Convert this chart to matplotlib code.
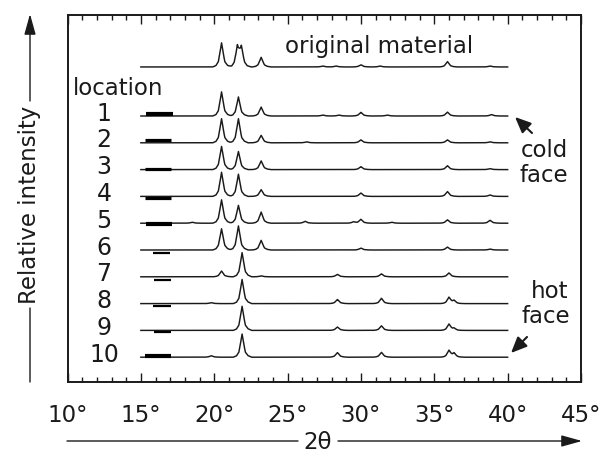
import numpy as np
import matplotlib
matplotlib.use("Agg")
import matplotlib.pyplot as plt
from matplotlib.patches import FancyArrowPatch

plt.rcParams['font.family'] = ['DejaVu Sans']
plt.rcParams['mathtext.fontset'] = 'dejavusans'

# ---------------- data ----------------
x_ticks = [10, 15, 20, 25, 30, 35, 40, 45]
x_tick_labels = ['10°', '15°', '20°', '25°', '30°', '35°', '40°', '45°']
scan_start, scan_end = 15.0, 40.0

trace_names = ['original', '1', '2', '3', '4', '5', '6', '7', '8', '9', '10']

# peak positions (2-theta, deg) for each trace
peak_pos = {
    'original': [20.5, 21.58, 21.85, 23.2, 27.4, 28.3, 30.0, 31.3, 35.9, 38.8],
    '1':  [20.5, 21.65, 23.2, 27.4, 28.5, 30.0, 31.8, 35.9, 38.9],
    '2':  [20.5, 21.65, 23.2, 26.3, 30.0, 35.9, 38.8],
    '3':  [20.5, 21.65, 23.2, 30.0, 35.9, 38.8],
    '4':  [20.5, 21.65, 23.2, 30.0, 35.9, 38.8],
    '5':  [18.5, 20.5, 21.65, 23.2, 26.2, 29.5, 30.0, 32.1, 35.9, 38.8],
    '6':  [20.5, 21.65, 23.2, 30.0, 35.9, 38.8],
    '7':  [20.5, 21.9, 23.2, 28.4, 31.4, 36.0],
    '8':  [19.8, 21.9, 28.4, 31.4, 36.0, 36.35],
    '9':  [21.9, 28.4, 31.4, 36.0, 36.35],
    '10': [19.8, 21.9, 28.4, 31.4, 36.0, 36.35],
}
# peak heights (relative intensity, tallest = 100)
peak_int = {
    'original': [100, 80, 76, 40, 4, 4, 9, 4, 22, 4],
    '1':  [100, 79, 37, 4, 4, 15, 4, 16, 6],
    '2':  [100, 100, 31, 4, 12, 12, 4],
    '3':  [96, 75, 36, 12, 16, 4],
    '4':  [100, 92, 28, 14, 20, 6],
    '5':  [4, 97, 74, 46, 8, 6, 16, 4, 14, 12],
    '6':  [88, 100, 40, 8, 12, 4],
    '7':  [24, 100, 4, 10, 12, 16],
    '8':  [4, 100, 17, 22, 26, 12],
    '9':  [100, 14, 19, 26, 8],
    '10': [6, 96, 19, 20, 28, 16],
}

# sample-position bars (2-theta extent) for locations 1..10
bar_start = [15.35, 15.28, 15.28, 15.30, 15.35, 15.85, 15.90, 15.85, 15.90, 15.28]
bar_end   = [17.17, 17.06, 17.06, 17.06, 17.12, 17.00, 17.03, 17.03, 17.03, 17.03]

# ---------------- styles / layout ----------------
W, H, DPI = 611, 454, 100
bar_lw = [3.0, 2.3, 2.3, 2.3, 3.0, 1.6, 1.6, 1.6, 1.6, 3.0]
bar_dy_px = [1.7, 3.0, 0.5, -2.0, -1.0, -3.0, -3.0, -2.7, -1.7, 1.0]
spacing_px = 26.8
orig_gap = 1.83          # original trace sits 1.83 spacings above location 1
int_scale = 0.9 / 100.0  # 100 intensity -> 0.9 trace spacings

prof_dx = np.array([-0.6, -0.38, -0.22, -0.12, 0.0, 0.12, 0.22, 0.4, 0.65])
prof_rel = np.array([0.0, 0.06, 0.22, 0.55, 1.0, 0.55, 0.22, 0.07, 0.0])

fig = plt.figure(figsize=(W / DPI, H / DPI), dpi=DPI)
ax_left, ax_right, ax_top, ax_bot = 67.5, 581.0, 15.0, 382.0
ax = fig.add_axes([ax_left / W, 1 - ax_bot / H, (ax_right - ax_left) / W, (ax_bot - ax_top) / H])
ax.set_xlim(10, 45)
y_top = -1 + (116 - ax_top) / spacing_px
y_bot = -1 - (ax_bot - 116) / spacing_px
ax.set_ylim(y_bot, y_top)

grid = np.linspace(scan_start, scan_end, 2501)
ink = '#1a1a1a'
for i, name in enumerate(trace_names):
    base = -1 + orig_gap if i == 0 else -i
    y = np.zeros_like(grid)
    for p, h in zip(peak_pos[name], peak_int[name]):
        y += h * np.interp(grid - p, prof_dx, prof_rel, left=0, right=0)
    ax.plot(grid, base + y * int_scale, color=ink, lw=1.05, solid_joinstyle='round')
    if i > 0:
        by = base + bar_dy_px[i - 1] / spacing_px
        ax.plot([bar_start[i - 1], bar_end[i - 1]], [by, by], color='black',
                lw=bar_lw[i - 1], solid_capstyle='butt')
        ax.text(12.49, base - 4.6 / spacing_px, name, ha='center', va='baseline',
                fontsize=17, color=ink)

# axis frame and ticks
for s in ax.spines.values():
    s.set_linewidth(1.4)
    s.set_color(ink)
ax.set_yticks([])
ax.set_xticks(x_ticks)
ax.set_xticks(np.arange(10, 46, 1), minor=True)
ax.tick_params(axis='x', which='both', direction='in', top=True, bottom=True,
               color=ink, width=1.0)
ax.tick_params(axis='x', which='major', length=6.5, pad=16, labelsize=16.5, labelcolor=ink)
ax.tick_params(axis='x', which='minor', length=3.5)
ax.set_xticklabels(x_tick_labels)

# annotations (figure pixel coords, origin top-left)
def ft(px, py, s, **kw):
    fig.text(px / W, 1 - py / H, s, color=ink, **kw)

ft(118, 95, 'location', ha='center', va='baseline', fontsize=16.5)
ft(379.5, 53, 'original material', ha='center', va='baseline', fontsize=16.5)
ft(544, 157.3, 'cold', ha='center', va='baseline', fontsize=16.5)
ft(544, 181.7, 'face', ha='center', va='baseline', fontsize=16.5)
ft(550, 297.7, 'hot', ha='center', va='baseline', fontsize=16.5)
ft(546, 323.3, 'face', ha='center', va='baseline', fontsize=16.5)

def arrow(p0, p1, head=True, lw=1.2, ms=14, hl=0.7, hw=0.3):
    style = '-|>,head_length=%g,head_width=%g' % (hl, hw) if head else '-'
    a = FancyArrowPatch((p0[0] / W, 1 - p0[1] / H), (p1[0] / W, 1 - p1[1] / H),
                        transform=fig.transFigure, arrowstyle=style,
                        mutation_scale=ms, color=ink, lw=lw, shrinkA=0, shrinkB=0)
    fig.add_artist(a)

arrow((532, 133), (515, 117), lw=1.5, ms=12, hl=0.8, hw=0.35)
arrow((527, 337), (511, 353), lw=1.5, ms=12, hl=0.8, hw=0.35)

# x axis caption with arrow
ft(318, 449, '2θ', ha='center', va='baseline', fontsize=16.5)
arrow((67, 441), (298, 441), head=False, lw=1.0)
arrow((338, 441), (582, 441), head=True, lw=1.0, ms=14, hl=0.9, hw=0.25)

# y axis caption with arrow
ft(30, 205, 'Relative intensity', ha='center', va='center', rotation=90, fontsize=16.5)
arrow((30, 382), (30, 308), head=False, lw=1.0)
arrow((30, 101), (30, 14), head=True, lw=1.0, ms=14, hl=0.9, hw=0.25)

fig.savefig('out.png', dpi=DPI)
